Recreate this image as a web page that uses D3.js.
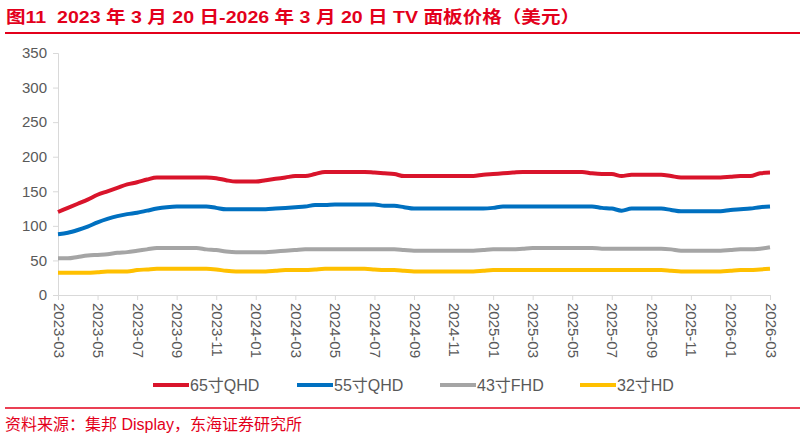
<!DOCTYPE html>
<html>
<head>
<meta charset="utf-8">
<script src="https://cdn.jsdelivr.net/npm/d3@7"></script>
<style>
  body { margin: 0; background: #fff; }
  svg { display: block; font-family: "Liberation Sans", Arial, "Noto Sans CJK SC", sans-serif; }
</style>
</head>
<body>
<svg width="805" height="438"></svg>
<script>
// 半月度报价：2023-03-20 起，每月 5 日 / 20 日，至 2026-03-20
const tickLabels = ["2023-03", "2023-05", "2023-07", "2023-09", "2023-11", "2024-01", "2024-03",
  "2024-05", "2024-07", "2024-09", "2024-11", "2025-01", "2025-03", "2025-05", "2025-07",
  "2025-09", "2025-11", "2026-01", "2026-03"];

const seriesNames = ["65寸QHD", "55寸QHD", "43寸FHD", "32寸HD"];
const seriesColors = ["#d9142b", "#0070c0", "#a5a5a5", "#ffc000"];

const v65 = [120, 126, 132, 138, 145, 150, 155, 160, 163, 167, 170, 170, 170, 170, 170, 170,
  169, 166, 164, 164, 164, 166, 168, 170, 172, 172, 175, 178, 178, 178, 178, 178,
  177, 176, 175, 172, 172, 172, 172, 172, 172, 172, 172, 174, 175, 176, 177, 178,
  178, 178, 178, 178, 178, 178, 176, 175, 175, 172, 174, 174, 174, 174, 172, 170,
  170, 170, 170, 170, 171, 172, 172, 176, 177];
const v55 = [88, 90, 94, 99, 105, 110, 114, 117, 119, 122, 125, 127, 128, 128, 128, 128,
  126, 124, 124, 124, 124, 124, 125, 126, 127, 128, 130, 130, 131, 131, 131, 131,
  131, 129, 129, 127, 125, 125, 125, 125, 125, 125, 125, 125, 126, 128, 128, 128,
  128, 128, 128, 128, 128, 128, 128, 126, 125, 122, 125, 125, 125, 125, 123, 121,
  121, 121, 121, 121, 123, 124, 125, 127, 128];
const v43 = [53, 53, 55, 57, 58, 59, 61, 62, 64, 66, 68, 68, 68, 68, 68, 66,
  65, 63, 62, 62, 62, 62, 63, 64, 65, 66, 66, 66, 66, 66, 66, 66,
  66, 66, 66, 65, 64, 64, 64, 64, 64, 64, 64, 65, 66, 66, 66, 67,
  68, 68, 68, 68, 68, 68, 68, 67, 67, 67, 67, 67, 67, 67, 66, 64,
  64, 64, 64, 64, 65, 66, 66, 67, 69];
const v32 = [32, 32, 32, 32, 33, 34, 34, 34, 36, 37, 38, 38, 38, 38, 38, 38,
  37, 35, 34, 34, 34, 34, 35, 36, 36, 36, 37, 38, 38, 38, 38, 38,
  37, 36, 36, 35, 34, 34, 34, 34, 34, 34, 34, 35, 36, 36, 36, 36,
  36, 36, 36, 36, 36, 36, 36, 36, 36, 36, 36, 36, 36, 36, 35, 34,
  34, 34, 34, 34, 35, 36, 36, 37, 38];

const yTicks = [0, 50, 100, 150, 200, 250, 300, 350];

const svg = d3.select("svg");
const margin = { left: 58, right: 770, top: 53, bottom: 295 };
const red = "#e3001b";
const textColor = "#595959";

// 标题
svg.append("text")
  .attr("x", 6).attr("y", 23)
  .attr("fill", red)
  .attr("font-size", 17).attr("font-weight", "bold")
  .style("white-space", "pre")
  .attr("textLength", 574).attr("lengthAdjust", "spacingAndGlyphs")
  .text("图11  2023 年 3 月 20 日-2026 年 3 月 20 日 TV 面板价格（美元）");
svg.append("line")
  .attr("x1", 5).attr("x2", 800).attr("y1", 33).attr("y2", 33)
  .attr("stroke", red).attr("stroke-width", 2);

const n = v65.length;
const x = d3.scaleLinear().domain([0, n - 1]).range([margin.left, margin.right]);
const y = d3.scaleLinear().domain([0, 350]).range([margin.bottom, margin.top]);

// y 轴
const yAxis = svg.append("g")
  .attr("transform", `translate(${margin.left},0)`)
  .call(d3.axisLeft(y).tickValues(yTicks).tickSize(5).tickPadding(6));
yAxis.select(".domain").attr("stroke", "#d9d9d9");
yAxis.selectAll(".tick line").attr("stroke", "#d9d9d9");
yAxis.selectAll("text").attr("font-size", 15).attr("fill", textColor)
  .attr("font-family", "Liberation Sans, Arial, sans-serif");

// x 轴：每 4 个半月点一个刻度
const xAxis = svg.append("g")
  .attr("transform", `translate(0,${margin.bottom})`)
  .call(d3.axisBottom(x)
    .tickValues(tickLabels.map((d, i) => i * 4))
    .tickFormat((d) => tickLabels[d / 4])
    .tickSize(5).tickSizeOuter(0));
xAxis.select(".domain").attr("stroke", "#d9d9d9");
xAxis.selectAll(".tick line").attr("stroke", "#d9d9d9");
xAxis.selectAll("text")
  .attr("font-size", 15).attr("fill", textColor)
  .attr("font-family", "Liberation Sans, Arial, sans-serif")
  .attr("text-anchor", "start")
  .attr("dy", null).attr("y", 0)
  .attr("transform", "translate(-5,8) rotate(90)");

// 折线
const allSeries = [v65, v55, v43, v32];
const line = d3.line().x((d, i) => x(i)).y((d) => y(d)).curve(d3.curveMonotoneX);
svg.append("g")
  .selectAll("path")
  .data(allSeries)
  .join("path")
  .attr("fill", "none")
  .attr("stroke", (d, i) => seriesColors[i])
  .attr("stroke-width", 4)
  .attr("stroke-linejoin", "round")
  .attr("d", line);

// 图例
const legendX = [153, 297, 440, 580];
const legend = svg.append("g")
  .selectAll("g")
  .data(seriesNames)
  .join("g")
  .attr("transform", (d, i) => `translate(${legendX[i]},385)`);
legend.append("line")
  .attr("x1", 0).attr("x2", 36)
  .attr("stroke", (d, i) => seriesColors[i])
  .attr("stroke-width", 4);
legend.append("text")
  .attr("x", 37).attr("y", 6)
  .attr("font-size", 16).attr("fill", textColor)
  .text((d) => d);

// 资料来源
svg.append("line")
  .attr("x1", 5).attr("x2", 800).attr("y1", 408).attr("y2", 408)
  .attr("stroke", red).attr("stroke-width", 1.5);
svg.append("text")
  .attr("x", 5).attr("y", 430)
  .attr("fill", red)
  .attr("font-size", 16)
  .text("资料来源：集邦 Display，东海证券研究所");
</script>
</body>
</html>
